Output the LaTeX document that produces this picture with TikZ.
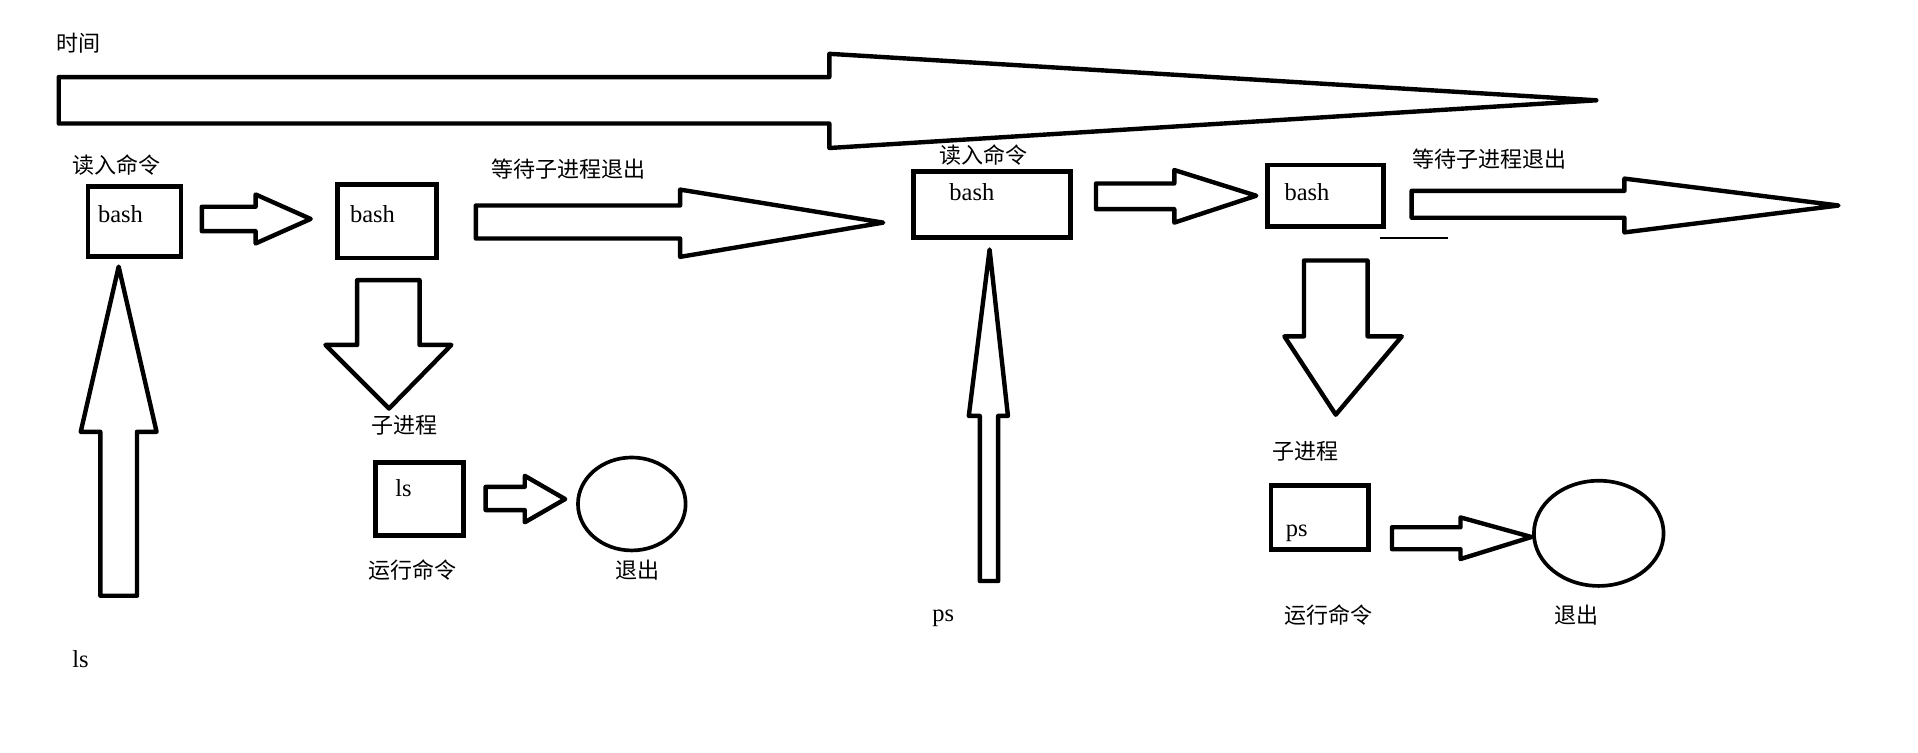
\documentclass[tikz,border=0pt]{standalone}
\usepackage{fontspec}
\setmainfont{Liberation Serif}
\newfontfamily\cjk{Noto Sans CJK SC}
\begin{document}
\begin{tikzpicture}[x=1pt,y=-1pt,
  box/.style={draw=black,line width=3.8pt,minimum width=#1,inner sep=0pt,outer sep=0pt},
  blockarrow/.style={draw=black,line width=3.6pt,line join=round,fill=white},
  cn/.style={font=\cjk\fontsize{18}{20}\selectfont,inner sep=0pt},
  lt/.style={font=\fontsize{20}{22}\selectfont,inner sep=0pt},
  thinline/.style={draw=black,line width=1.4pt},
  ovalline/.style={draw=black,line width=3pt}]
\fill[white] (0,0) rectangle (1568,615);
\useasboundingbox (0,0) rectangle (1568,615);

% time arrow
\node[cn] (time) at (64,35) {时间};
\draw[blockarrow] (48,63) -- (678,63) -- (678,44) -- (1305,82) -- (678,121) -- (678,101) -- (48,101) -- cycle;

% first cycle
\node[cn] (read1) at (95,135) {读入命令};
\node[box=76pt,minimum height=57pt] (b1) at (110,181) {};
\node[lt,anchor=base west] (b1t) at (80,182) {bash};
\draw[blockarrow] (165,169) -- (209,169) -- (209,159) -- (254,179) -- (209,199) -- (209,189) -- (165,189) -- cycle;
\node[box=81pt,minimum height=60pt] (b2) at (316.5,181) {};
\node[lt,anchor=base west] (b2t) at (286,182) {bash};
\node[cn] (wait1) at (465,138) {等待子进程退出};
\draw[blockarrow] (389,168) -- (556,168) -- (556,155) -- (722,182) -- (556,210) -- (556,195) -- (389,195) -- cycle;
\draw[blockarrow] (292,229) -- (343,229) -- (343,282) -- (369,282) -- (318,334) -- (266,282) -- (292,282) -- cycle;
\node[cn] (child1) at (331,348) {子进程};
\draw[blockarrow] (82,487) -- (82,353) -- (66,353) -- (97,218) -- (128,353) -- (112,353) -- (112,487) -- cycle;
\node[lt,anchor=base west] (ls) at (59,546) {ls};
\node[box=72pt,minimum height=60pt] (lsbox) at (343,408) {};
\node[lt,anchor=base west] (lst) at (323,406) {ls};
\draw[blockarrow] (397,398) -- (429,398) -- (429,389) -- (462,408) -- (429,427) -- (429,417) -- (397,417) -- cycle;
\draw[ovalline] (516.5,412) ellipse [x radius=44, y radius=38];
\node[cn] (run1) at (337,466) {运行命令};
\node[cn] (exit1) at (521,466) {退出};

% second cycle
\node[cn] (read2) at (804,127) {读入命令};
\node[box=128pt,minimum height=54pt] (b3) at (811,167) {};
\node[lt,anchor=base west] (b3t) at (776,164) {bash};
\draw[blockarrow] (896,150) -- (960,150) -- (960,139) -- (1027,160) -- (960,182) -- (960,171) -- (896,171) -- cycle;
\node[box=95pt,minimum height=50pt] (b4) at (1083.5,160) {};
\node[lt,anchor=base west] (b4t) at (1050,164) {bash};
\coordinate (u1) at (1128,194.5);
\coordinate (u2) at (1184,194.5);
\draw[thinline] (u1) -- (u2);
\node[cn] (wait2) at (1218,130) {等待子进程退出};
\draw[blockarrow] (1154,156) -- (1328,156) -- (1328,146) -- (1503,168) -- (1328,190) -- (1328,178) -- (1154,178) -- cycle;
\draw[blockarrow] (801,475) -- (801,340) -- (792,340) -- (809,204) -- (824,340) -- (816,340) -- (816,475) -- cycle;
\node[lt,anchor=base west] (ps) at (762,508) {ps};
\draw[blockarrow] (1066,213) -- (1118,213) -- (1118,275) -- (1146,275) -- (1092,339) -- (1050,275) -- (1066,275) -- cycle;
\node[cn] (child2) at (1067,369) {子进程};
\node[box=80pt,minimum height=52pt] (psbox) at (1079,423) {};
\node[lt,anchor=base west] (pst) at (1051,439) {ps};
\draw[blockarrow] (1138,431) -- (1194,431) -- (1194,423) -- (1252,439) -- (1194,457) -- (1194,449) -- (1138,449) -- cycle;
\draw[ovalline] (1307,436) ellipse [x radius=53, y radius=43];
\node[cn] (run2) at (1086,503) {运行命令};
\node[cn] (exit2) at (1289,503) {退出};
\end{tikzpicture}
\end{document}
